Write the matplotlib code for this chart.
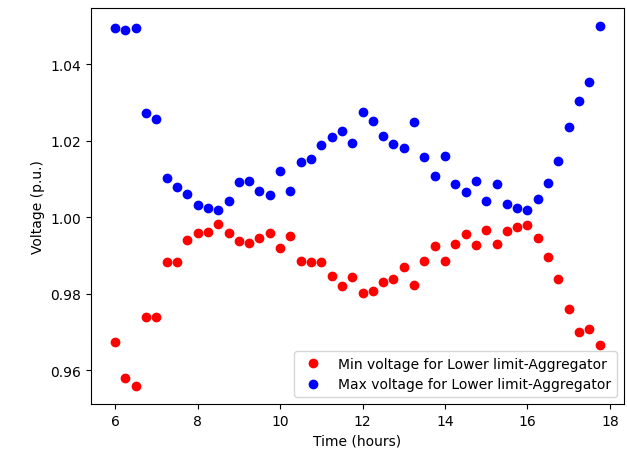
import numpy as np
import matplotlib
matplotlib.use("Agg")
import matplotlib.pyplot as plt

time_hours = [6.0 + 0.25 * i for i in range(48)]

min_voltage = [
    0.9675, 0.9579, 0.9559, 0.9740, 0.9740, 0.9883, 0.9883, 0.9941,
    0.9958, 0.9961, 0.9982, 0.9958, 0.9938, 0.9932, 0.9947, 0.9958,
    0.9921, 0.9950, 0.9885, 0.9883, 0.9883, 0.9846, 0.9820, 0.9843,
    0.9801, 0.9807, 0.9830, 0.9840, 0.9871, 0.9823, 0.9886, 0.9925,
    0.9886, 0.9931, 0.9956, 0.9927, 0.9966, 0.9931, 0.9964, 0.9975,
    0.9980, 0.9945, 0.9896, 0.9838, 0.9760, 0.9700, 0.9709, 0.9666,
]

max_voltage = [
    1.0496, 1.0490, 1.0496, 1.0272, 1.0256, 1.0104, 1.0079, 1.0062,
    1.0031, 1.0025, 1.0020, 1.0043, 1.0091, 1.0094, 1.0068, 1.0059,
    1.0122, 1.0068, 1.0144, 1.0152, 1.0188, 1.0209, 1.0226, 1.0194,
    1.0275, 1.0252, 1.0213, 1.0191, 1.0182, 1.0250, 1.0157, 1.0109,
    1.0161, 1.0088, 1.0065, 1.0096, 1.0043, 1.0088, 1.0034, 1.0025,
    1.0018, 1.0048, 1.0090, 1.0146, 1.0236, 1.0303, 1.0354, 1.0500,
]

fig = plt.figure(figsize=(6.27, 4.52), dpi=100)
ax = fig.add_axes([0.145, 0.104, 0.85, 0.876])
ax.plot(time_hours, min_voltage, 'ro', label='Min voltage for Lower limit-Aggregator')
ax.plot(time_hours, max_voltage, 'bo', label='Max voltage for Lower limit-Aggregator')
ax.set_xlabel('Time (hours)')
ax.set_ylabel('Voltage (p.u.)')
ax.set_xticks([6, 8, 10, 12, 14, 16, 18])
ax.legend(loc='lower right')
fig.savefig('out.png', dpi=100)
